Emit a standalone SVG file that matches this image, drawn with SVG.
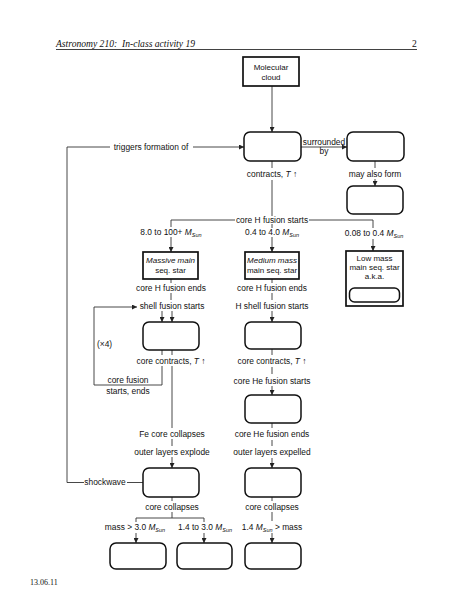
<svg xmlns="http://www.w3.org/2000/svg" width="474" height="613" viewBox="0 0 474 613">
<defs>
<marker id="ah" viewBox="0 0 6 6" refX="6" refY="3" markerWidth="5" markerHeight="5" markerUnits="userSpaceOnUse" orient="auto">
<path d="M0,0 L6,3 L0,6 Z" fill="#222"/>
</marker>
</defs>
<style>
text{font-family:"Liberation Sans",Arial,sans-serif;font-size:8.4px;fill:#111}
.c{text-anchor:middle}
.bt{font-size:8px}
.hd{font-family:"Liberation Serif","Times New Roman",serif;font-style:italic;font-size:9.6px;white-space:pre}
.ft{font-family:"Liberation Serif","Times New Roman",serif;font-size:8px}
.box{fill:#fff;stroke:#111;stroke-width:1.7}
.rb{fill:#fff;stroke:#111;stroke-width:1.5}
.ln{fill:none;stroke:#333;stroke-width:0.9}
.ar{fill:none;stroke:#333;stroke-width:0.9;marker-end:url(#ah)}
.i{font-style:italic}
</style>
<rect width="474" height="613" fill="#fff"/>

<g id="header">
<text class="hd" x="56" y="47">Astronomy 210:&#160; In-class activity 19</text>
<text class="hd" x="412" y="47" style="font-style:normal">2</text>
<line x1="56" y1="49.5" x2="417" y2="49.5" stroke="#111" stroke-width="0.8"/>
</g>
<g id="footer"><text class="ft" x="30" y="585">13.06.11</text></g>

<g id="connectors">
<line class="ar" x1="272" y1="86" x2="272" y2="132"/>
<line class="ln" x1="67" y1="147" x2="110" y2="147"/>
<line class="ar" x1="193" y1="147" x2="244" y2="147"/>
<line class="ln" x1="67" y1="147" x2="67" y2="482.5"/>
<line class="ln" x1="67" y1="482.5" x2="84" y2="482.5"/>
<line class="ln" x1="127" y1="482.5" x2="143" y2="482.5"/>
<line class="ar" x1="301" y1="147" x2="347" y2="147"/>
<line class="ln" x1="272" y1="161" x2="272" y2="168"/>
<line class="ln" x1="272" y1="180" x2="272" y2="216"/>
<line class="ln" x1="375" y1="161" x2="375" y2="168"/>
<line class="ar" x1="375" y1="179" x2="375" y2="186"/>
<polyline class="ln" points="235,220 171,220 171,227"/>
<polyline class="ln" points="309,220 373,220 373,228"/>
<line class="ln" x1="272" y1="224" x2="272" y2="228"/>
<line class="ar" x1="171" y1="237" x2="171" y2="252"/>
<line class="ar" x1="272" y1="237" x2="272" y2="252"/>
<line class="ar" x1="373" y1="239" x2="373" y2="251"/>
<line class="ln" x1="171" y1="279" x2="171" y2="283"/>
<line class="ln" x1="171" y1="293" x2="171" y2="300"/>
<line class="ln" x1="272" y1="279" x2="272" y2="283"/>
<line class="ln" x1="272" y1="293" x2="272" y2="300"/>
<line class="ar" x1="272" y1="311" x2="272" y2="322"/>
<line class="ar" x1="162" y1="311" x2="162" y2="322"/>
<line class="ar" x1="172" y1="311" x2="172" y2="322"/>
<polyline class="ar" points="162,366 162,385 94,385 94,307 137,307"/>
<line class="ln" x1="162" y1="350" x2="162" y2="355"/>
<line class="ln" x1="172" y1="350" x2="172" y2="355"/>
<line class="ln" x1="172" y1="366" x2="172" y2="428"/>
<line class="ln" x1="172" y1="439" x2="172" y2="446"/>
<line class="ar" x1="172" y1="457" x2="172" y2="468"/>
<line class="ln" x1="272" y1="349" x2="272" y2="355"/>
<line class="ln" x1="272" y1="367" x2="272" y2="374"/>
<line class="ar" x1="272" y1="386" x2="272" y2="395"/>
<line class="ln" x1="272" y1="423" x2="272" y2="428"/>
<line class="ln" x1="272" y1="440" x2="272" y2="446"/>
<line class="ar" x1="272" y1="458" x2="272" y2="468"/>
<line class="ln" x1="172" y1="497" x2="172" y2="501"/>
<line class="ln" x1="172" y1="512" x2="172" y2="518"/>
<polyline class="ln" points="136,522 136,518 204,518 204,522"/>
<line class="ar" x1="136" y1="533" x2="136" y2="543"/>
<line class="ar" x1="204" y1="533" x2="204" y2="543"/>
<line class="ln" x1="272" y1="497" x2="272" y2="501"/>
<line class="ln" x1="272" y1="512" x2="272" y2="521"/>
<line class="ar" x1="272" y1="533" x2="272" y2="543"/>
</g>

<g id="labels">
<text class="c" x="151" y="150">triggers formation of</text>
<text class="c" x="105" y="485">shockwave</text>
<text class="c" x="324" y="144.5">surrounded</text>
<text class="c" x="324" y="154">by</text>
<text class="c" x="272" y="177">contracts, <tspan class="i">T</tspan> ↑</text>
<text class="c" x="375" y="177">may also form</text>
<text class="c" x="272" y="223">core H fusion starts</text>
<text class="c" x="171" y="235">8.0 to 100+ <tspan class="i">M</tspan><tspan font-size="5.5" dy="1.5" class="i">Sun</tspan></text>
<text class="c" x="272" y="235">0.4 to 4.0 <tspan class="i">M</tspan><tspan font-size="5.5" dy="1.5" class="i">Sun</tspan></text>
<text class="c" x="374" y="236">0.08 to 0.4 <tspan class="i">M</tspan><tspan font-size="5.5" dy="1.5" class="i">Sun</tspan></text>
<text class="c" x="171" y="291">core H fusion ends</text>
<text class="c" x="172" y="309">shell fusion starts</text>
<text class="c" x="272" y="291">core H fusion ends</text>
<text class="c" x="272" y="309">H shell fusion starts</text>
<text x="97" y="347">(×4)</text>
<text class="c" x="171" y="364">core contracts, <tspan class="i">T</tspan> ↑</text>
<text class="c" x="128" y="383">core fusion</text>
<text class="c" x="128" y="394">starts, ends</text>
<text class="c" x="272" y="364">core contracts, <tspan class="i">T</tspan> ↑</text>
<text class="c" x="272" y="384">core He fusion starts</text>
<text class="c" x="172" y="437">Fe core collapses</text>
<text class="c" x="172" y="455">outer layers explode</text>
<text class="c" x="272" y="437">core He fusion ends</text>
<text class="c" x="272" y="455">outer layers expelled</text>
<text class="c" x="172" y="510">core collapses</text>
<text class="c" x="272" y="510">core collapses</text>
<text class="c" x="135" y="530">mass &gt; 3.0 <tspan class="i">M</tspan><tspan font-size="5.5" dy="1.5" class="i">Sun</tspan></text>
<text class="c" x="205" y="530">1.4 to 3.0 <tspan class="i">M</tspan><tspan font-size="5.5" dy="1.5" class="i">Sun</tspan></text>
<text class="c" x="272" y="530">1.4 <tspan class="i">M</tspan><tspan font-size="5.5" dy="1.5" class="i">Sun</tspan><tspan dy="-1.5"> &gt; mass</tspan></text>
</g>

<g id="molecular-cloud"><rect class="box" x="243" y="57" width="56" height="29"/><text class="c bt" x="271" y="70">Molecular</text><text class="c bt" x="271" y="80">cloud</text></g>
<g id="protostar"><rect class="rb" x="244" y="132" width="57" height="29" rx="6"/></g>
<g id="surrounding"><rect class="rb" x="347" y="132" width="57" height="29" rx="6"/></g>
<g id="also-form"><rect class="rb" x="347" y="186" width="56" height="28" rx="6"/></g>
<g id="massive-ms"><rect class="box" x="143" y="252" width="55" height="27"/><text class="c bt i" x="170.5" y="263">Massive main</text><text class="c bt" x="170.5" y="273">seq. star</text></g>
<g id="medium-ms"><rect class="box" x="245" y="252" width="54" height="27"/><text class="c bt i" x="272" y="263">Medium mass</text><text class="c bt" x="272" y="273">main seq. star</text></g>
<g id="low-ms"><rect class="box" x="346" y="251" width="57" height="55"/><text class="c bt" x="374.5" y="261">Low mass</text><text class="c bt" x="374.5" y="270">main seq. star</text><text class="c bt" x="374.5" y="279">a.k.a.</text><rect class="rb" x="349.5" y="288" width="50" height="14" rx="5"/></g>
<g id="massive-giant"><rect class="rb" x="143" y="322" width="56" height="28" rx="6"/></g>
<g id="medium-giant"><rect class="rb" x="245" y="322" width="56" height="27" rx="6"/></g>
<g id="medium-he"><rect class="rb" x="245" y="395" width="56" height="28" rx="6"/></g>
<g id="supernova"><rect class="rb" x="143" y="468" width="56" height="29" rx="6"/></g>
<g id="planetary-nebula"><rect class="rb" x="245" y="468" width="56" height="29" rx="6"/></g>
<g id="black-hole"><rect class="rb" x="110" y="543" width="56" height="26" rx="6"/></g>
<g id="neutron-star"><rect class="rb" x="177" y="543" width="55" height="26" rx="6"/></g>
<g id="white-dwarf"><rect class="rb" x="245" y="543" width="56" height="26" rx="6"/></g>
</svg>
